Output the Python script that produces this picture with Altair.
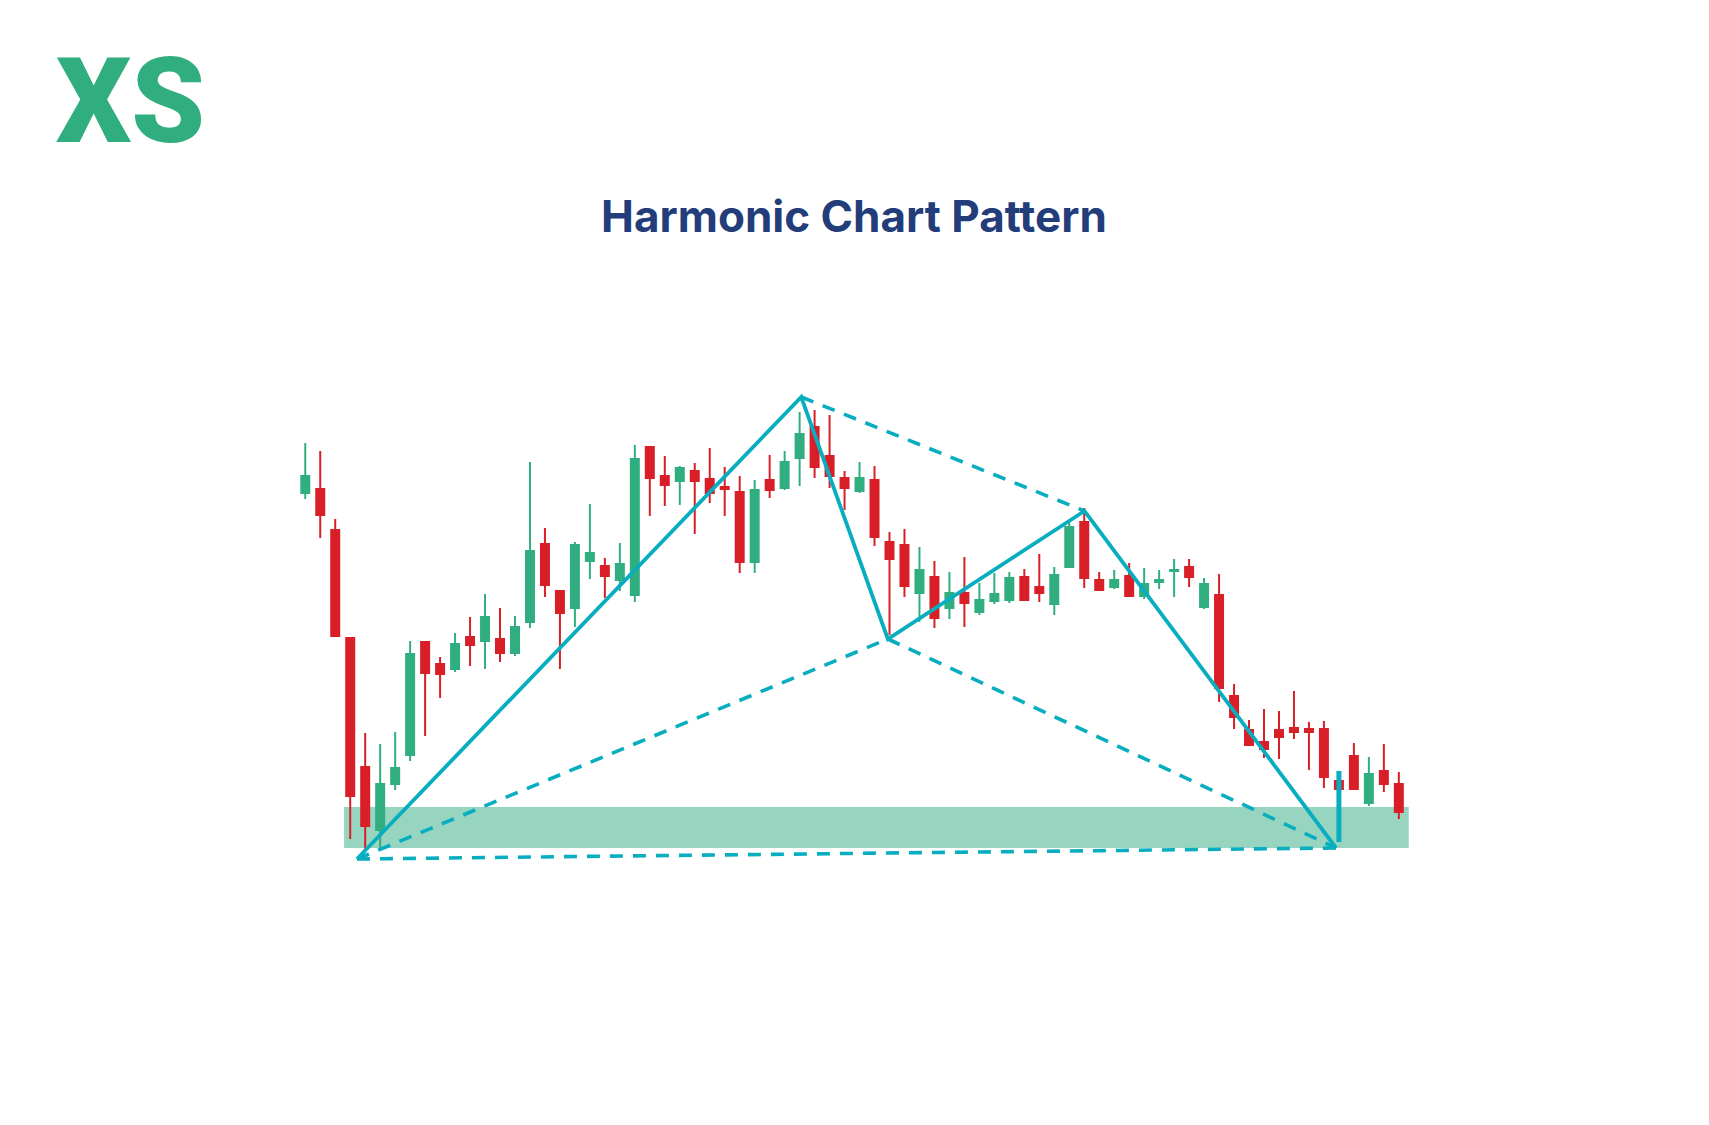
import altair as alt
import pandas as pd

# ---- candle data (index, open, high, low, close) ----
idx = list(range(1, 75))
opens = [406, 412, 371, 263, 134, 69, 115, 144, 259, 237, 230, 264, 258, 262, 246, 277, 357, 310,
         291, 338, 335, 319, 304, 454, 425, 418, 430, 422, 414, 409, 337, 421, 411, 441, 474, 445,
         423, 408, 421, 359, 356, 306, 324, 291, 308, 287, 298, 299, 324, 314, 295, 332, 379, 321,
         312, 325, 303, 317, 328, 334, 292, 306, 205, 171, 159, 171, 173, 172, 172, 120, 145, 96,
         130, 117]
highs = [457, 449, 381, 263, 167, 156, 168, 259, 259, 243, 267, 283, 306, 292, 284, 438, 372, 310,
         358, 396, 342, 357, 455, 454, 444, 434, 437, 452, 433, 424, 420, 445, 449, 488, 490, 485,
         429, 438, 434, 368, 371, 353, 339, 328, 343, 317, 327, 328, 331, 346, 333, 378, 392, 328,
         330, 337, 332, 330, 341, 341, 322, 326, 216, 180, 191, 189, 209, 178, 179, 120, 157, 143,
         156, 128]
lows = [401, 362, 263, 61, 50, 49, 110, 139, 164, 202, 228, 234, 231, 238, 244, 272, 303, 231,
        273, 321, 302, 309, 298, 384, 394, 395, 366, 397, 384, 327, 327, 402, 410, 414, 422, 412,
        390, 407, 354, 265, 303, 278, 272, 281, 273, 285, 296, 297, 299, 298, 285, 332, 312, 309,
        311, 303, 301, 311, 303, 313, 291, 198, 171, 154, 142, 141, 161, 130, 112, 110, 110, 94,
        108, 81]
closes = [425, 384, 263, 103, 73, 117, 133, 247, 226, 225, 257, 254, 284, 246, 274, 350, 314, 286,
          356, 348, 323, 337, 442, 421, 414, 433, 418, 406, 410, 337, 411, 409, 439, 467, 432, 423,
          411, 423, 362, 340, 313, 331, 281, 308, 296, 301, 307, 323, 299, 306, 326, 374, 321, 309,
          321, 303, 317, 321, 331, 322, 317, 211, 182, 154, 150, 162, 167, 167, 122, 110, 110, 127,
          115, 87]

# ---- harmonic pattern points X, A, B, C, D ----
pattern_names = ["X", "A", "B", "C", "D"]
pattern_x = [4.45, 34.11, 39.89, 53.02, 69.81]
pattern_y = [41, 503, 261, 389, 52]

# dashed connector legs (pairs of pattern points)
dashed_pairs = [("X", "B"), ("A", "C"), ("B", "D"), ("X", "D")]

# marker at D and support zone
d_marker_x = [70.0]
d_marker_y = [58, 129]
zone_x = [3.59, 74.66]
zone_y = [52, 93]

title_text = "Harmonic Chart Pattern"
logo_text = "XS"

GREEN = "#31ae80"
RED = "#d81f27"
TEAL = "#08aec0"
ZONE = "#98d5c0"
NAVY = "#233c7a"

candles = pd.DataFrame({"i": idx, "open": opens, "high": highs, "low": lows, "close": closes})
candles["dir"] = ["up" if c >= o else "down" for o, c in zip(opens, closes)]

pts = dict(zip(pattern_names, zip(pattern_x, pattern_y)))
solid = pd.DataFrame({"name": pattern_names, "x": pattern_x, "y": pattern_y,
                      "order": list(range(len(pattern_names)))})
dash_rows = []
for k, (a, b) in enumerate(dashed_pairs):
    for j, p in enumerate((a, b)):
        dash_rows.append({"seg": k, "order": j, "x": pts[p][0], "y": pts[p][1]})
dashed = pd.DataFrame(dash_rows)
zone = pd.DataFrame({"x": [zone_x[0]], "x2": [zone_x[1]], "y": [zone_y[0]], "y2": [zone_y[1]]})
marker = pd.DataFrame({"x": d_marker_x, "y": [d_marker_y[0]], "y2": [d_marker_y[1]]})
logo = pd.DataFrame({"t": [logo_text]})
title = pd.DataFrame({"t": [title_text]})

W, H = 1680, 850
xs = alt.Scale(domain=[-18.51, 92.97], nice=False, zero=False)
ys = alt.Scale(domain=[-208, 642], nice=False, zero=False)
col = alt.Color("dir:N", scale=alt.Scale(domain=["up", "down"], range=[GREEN, RED]), legend=None)

zone_layer = alt.Chart(zone).mark_rect(color=ZONE).encode(
    x=alt.X("x:Q", scale=xs, axis=None), x2="x2:Q",
    y=alt.Y("y:Q", scale=ys, axis=None), y2="y2:Q")

wicks = alt.Chart(candles).mark_rule(strokeWidth=2).encode(
    x=alt.X("i:Q", scale=xs, axis=None),
    y=alt.Y("low:Q", scale=ys, axis=None), y2="high:Q", color=col)

bodies = alt.Chart(candles).mark_bar(size=10).encode(
    x=alt.X("i:Q", scale=xs, axis=None),
    y=alt.Y("open:Q", scale=ys, axis=None), y2="close:Q", color=col)

dashed_layer = alt.Chart(dashed).mark_line(
    color=TEAL, strokeWidth=3.6, strokeDash=[13, 10], strokeCap="butt").encode(
    x=alt.X("x:Q", scale=xs, axis=None), y=alt.Y("y:Q", scale=ys, axis=None),
    detail="seg:N", order="order:Q")

solid_layer = alt.Chart(solid).mark_line(
    color=TEAL, strokeWidth=3.8, strokeJoin="miter").encode(
    x=alt.X("x:Q", scale=xs, axis=None), y=alt.Y("y:Q", scale=ys, axis=None),
    order="order:Q")

marker_layer = alt.Chart(marker).mark_rule(color=TEAL, strokeWidth=5).encode(
    x=alt.X("x:Q", scale=xs, axis=None), y=alt.Y("y:Q", scale=ys, axis=None), y2="y2:Q")

logo_layer = alt.Chart(logo).mark_text(
    align="left", baseline="alphabetic", font="Roboto", fontSize=118, fontWeight=900,
    color=GREEN, clip=False).encode(
    text="t:N", x=alt.value(48), y=alt.value(-116))

title_layer = alt.Chart(title).mark_text(
    align="center", baseline="alphabetic", font="Inter", fontSize=44, fontWeight=700,
    color=NAVY, clip=False).encode(
    text="t:N", x=alt.value(846), y=alt.value(-26))

chart = alt.layer(zone_layer, wicks, bodies, dashed_layer, solid_layer, marker_layer,
                  logo_layer, title_layer).properties(
    width=W, height=H,
    autosize=alt.AutoSizeParams(type="none"),
    padding={"left": 0, "top": 250, "right": 0, "bottom": 0},
    background="white",
).configure_view(stroke=None)

chart.save("out.html", embed_options={"renderer": "svg", "actions": False})
